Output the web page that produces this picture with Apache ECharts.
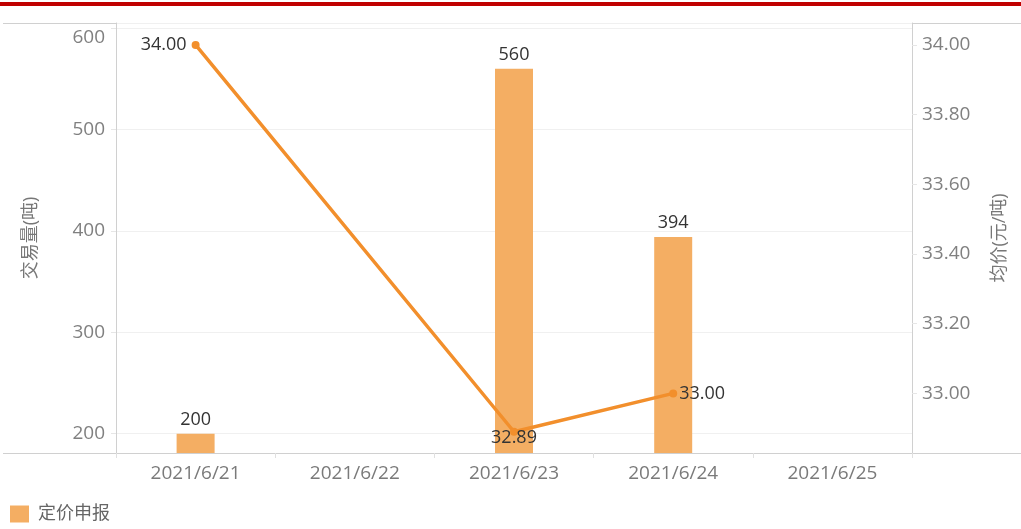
<!DOCTYPE html>
<html>
<head>
<meta charset="utf-8">
<script src="https://cdn.jsdelivr.net/npm/echarts@6/dist/echarts.min.js"></script>
<style>
    html, body { margin: 0; padding: 0; background: #fff; }
    #chart { width: 1021px; height: 529px; }
</style>
</head>
<body>
<div id="chart"></div>
<script>
// 数据
const categories = ['2021/6/21', '2021/6/22', '2021/6/23', '2021/6/24', '2021/6/25'];
const volumeData = [200, null, 560, 394, null];        // 交易量(吨)
const priceData = [34.00, null, 32.89, 33.00, null];   // 均价(元/吨)
const priceLabelPos = ['left', 'top', 'bottom', 'right', 'top'];
const priceLabelDist = [5, 2, -7, 2, 2];

let chartDom = document.getElementById('chart');
let myChart = echarts.init(chartDom);

const font = '"Open Sans", "Noto Sans CJK SC", sans-serif';

// grid
let grid = {
    left: 116,
    right: 109,
    top: 23,
    bottom: 76
};

// xAxis
let xAxis = {
    type: 'category',
    boundaryGap: true,
    data: categories,
    axisLine: { lineStyle: { color: '#d0d0d0', width: 1 } },
    axisTick: { show: true, length: 5, lineStyle: { color: '#e0e0e0' } },
    axisLabel: { color: '#7a7a7a', fontSize: 19, fontFamily: font, margin: 11 }
};

// yAxis
let yAxis = [{
    type: 'value',
    min: 181,
    max: 605,
    name: '交易量(吨)',
    nameLocation: 'middle',
    nameRotate: 90,
    nameGap: 76,
    nameTextStyle: { color: '#777', fontSize: 18, fontFamily: font },
    axisLine: { show: true, lineStyle: { color: '#d0d0d0' } },
    axisTick: { show: true, length: 5, lineStyle: { color: '#e6e6e6' } },
    axisLabel: {
        color: '#808080', fontSize: 19, fontFamily: font, margin: 11,
        showMinLabel: false, showMaxLabel: false,
        // 顶部 600 标签下移一点
        formatter: v => v === 600 ? '{top|' + v + '}' : v,
        rich: { top: { padding: [20, 0, 0, 0], fontSize: 19, color: '#808080', fontFamily: font } }
    },
    splitLine: { show: true, lineStyle: { color: '#f0f0f0' } }
}, {
    type: 'value',
    min: 32.829,
    max: 34.063,
    position: 'right',
    name: '均价(元/吨)',
    nameLocation: 'middle',
    nameRotate: 90,
    nameGap: 79,
    nameTextStyle: { color: '#777', fontSize: 18, fontFamily: font },
    axisLine: { show: true, lineStyle: { color: '#d0d0d0' } },
    axisTick: { show: true, length: 5, lineStyle: { color: '#e6e6e6' } },
    axisLabel: {
        color: '#808080', fontSize: 19, fontFamily: font, margin: 10,
        showMinLabel: false, showMaxLabel: false,
        formatter: v => v.toFixed(2)
    },
    splitLine: { show: false }
}];

// series
let series = [{
    name: '定价申报',
    type: 'bar',
    barWidth: 38,
    data: volumeData,
    itemStyle: { color: '#f4ae63' },
    label: {
        show: true,
        position: 'top',
        distance: 5,
        color: '#333',
        fontSize: 18,
        fontFamily: font
    }
}, {
    name: '均价',
    type: 'line',
    yAxisIndex: 1,
    connectNulls: true,
    symbol: 'circle',
    symbolSize: 8,
    z: 5,
    data: priceData.map((v, i) => ({
        value: v,
        label: { position: priceLabelPos[i], distance: priceLabelDist[i] }
    })),
    lineStyle: { color: '#f28f2c', width: 3.5 },
    itemStyle: { color: '#f28f2c' },
    label: {
        show: true,
        color: '#333',
        fontSize: 18,
        fontFamily: font,
        formatter: p => p.value == null ? '' : p.value.toFixed(2)
    }
}];

// 边框等装饰线
let graphic = [
    { type: 'rect', shape: { x: 0, y: 2, width: 1021, height: 4 }, style: { fill: '#c00000' }, silent: true },
    { type: 'line', shape: { x1: 3, y1: 23.5, x2: 1021, y2: 23.5 }, style: { stroke: '#d0d0d0', lineWidth: 1 }, silent: true },
    { type: 'line', shape: { x1: 3, y1: 453.5, x2: 1021, y2: 453.5 }, style: { stroke: '#d0d0d0', lineWidth: 1 }, silent: true }
];

const option = {
    animation: false,
    textStyle: { fontFamily: font },
    grid,
    xAxis,
    yAxis,
    series,
    graphic,
    legend: {
        data: ['定价申报'],
        left: 5,
        bottom: 1,
        icon: 'rect',
        itemWidth: 19,
        itemHeight: 17,
        itemGap: 8,
        textStyle: { color: '#666', fontSize: 18, fontFamily: font, padding: [0, 0, 0, 4] }
    }
};

option && myChart.setOption(option);
</script>
</body>
</html>
